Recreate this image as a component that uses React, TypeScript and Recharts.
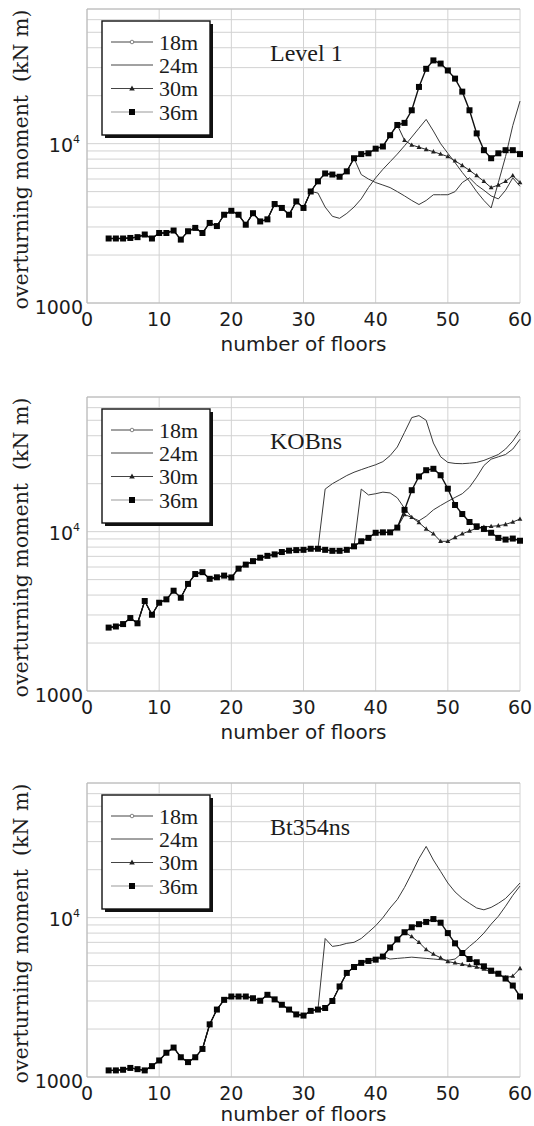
import { LineChart, Line, XAxis, YAxis, CartesianGrid } from "recharts";

// floors 3..60, one value per floor
const FLOORS = [
  3, 4, 5, 6, 7, 8, 9, 10, 11, 12, 13, 14, 15, 16, 17, 18, 19, 20, 21, 22, 23, 24, 25, 26, 27, 28, 29, 30, 31,
  32, 33, 34, 35, 36, 37, 38, 39, 40, 41, 42, 43, 44, 45, 46, 47, 48, 49, 50, 51, 52, 53, 54, 55, 56, 57, 58, 59, 60,
];

// ── Level 1 ──────────────────────────────────────────────────────────────
// floors 3–31 are common to every width
const L1_BASE = [2540, 2540, 2540, 2560, 2590, 2690, 2540, 2750, 2750, 2850, 2500, 2820, 2960, 2750, 3180, 3040, 3580, 3790, 3580, 3100, 3660, 3250, 3350, 4180, 3950, 3580, 4340, 3950, 5010];
// 36m, floors 32–60
const L1_M36_TOP = [5800, 6500, 6400, 6200, 6700, 8100, 8600, 8700, 9300, 9600, 11300, 13100, 13500, 16200, 22700, 29500, 33300, 31800, 28800, 25600, 21200, 16200, 11600, 9100, 8100, 8700, 9100, 9100, 8600];
// 30m, floors 44–60
const L1_M30_TOP = [10500, 9800, 9500, 9200, 8900, 8600, 8300, 7800, 7300, 6800, 6300, 5800, 5300, 5500, 5800, 6300, 5700];
// 24m, floors 38–60
const L1_M24_TOP = [6400, 6000, 5700, 5500, 5300, 5000, 4700, 4400, 4150, 4400, 4780, 4780, 4780, 5000, 5700, 6100, 5500, 5100, 4700, 4500, 5100, 6100, 5400];
// 18m, floors 32–60
const L1_M18_TOP = [4900, 4000, 3500, 3400, 3650, 4000, 4500, 5300, 6100, 6900, 7700, 8600, 9700, 11000, 12500, 14200, 12000, 10000, 8700, 7600, 6600, 5800, 5000, 4400, 3950, 5700, 8300, 13000, 18500];

// ── KOBns ────────────────────────────────────────────────────────────────
const L2_BASE = [2500, 2540, 2630, 2870, 2660, 3670, 3010, 3580, 3760, 4260, 3850, 4700, 5420, 5570, 5060, 5170, 5300, 5160, 5860, 6210, 6530, 6860, 7050, 7200, 7450, 7600, 7660, 7690, 7810];
const L2_M36_TOP = [7810, 7690, 7580, 7580, 7690, 8090, 8700, 9140, 9840, 9900, 9900, 10600, 13700, 18200, 22200, 24300, 24800, 22600, 18600, 14700, 12900, 11500, 10800, 10400, 9840, 9140, 8920, 9050, 8770];
const L2_M30_TOP = [12800, 12300, 11400, 10400, 9700, 8700, 8700, 9200, 9700, 10100, 10500, 10700, 10800, 10900, 11100, 11500, 12000];
const L2_M24_TOP = [18500, 17000, 17300, 17700, 17500, 16300, 14000, 12300, 11700, 12500, 13700, 14600, 15500, 16400, 17300, 19000, 22000, 26000, 28500, 29500, 30500, 33000, 38000];
// 18m, floors 33–60
const L2_M18_TOP = [18500, 20000, 21200, 22500, 23600, 24500, 25400, 26300, 27500, 30000, 34000, 42000, 52000, 53500, 50000, 36000, 29500, 27200, 26800, 26700, 26900, 27200, 28000, 29200, 30500, 33000, 37000, 43000];

// ── Bt354ns ──────────────────────────────────────────────────────────────
const L3_BASE = [1100, 1100, 1110, 1140, 1120, 1100, 1170, 1270, 1420, 1530, 1330, 1240, 1330, 1500, 2140, 2650, 3050, 3200, 3200, 3200, 3120, 3010, 3280, 3070, 2840, 2650, 2470, 2430, 2600];
const L3_M36_TOP = [2650, 2710, 3000, 3700, 4500, 4900, 5200, 5350, 5450, 5700, 6500, 7300, 8100, 8700, 9100, 9400, 9800, 9300, 8000, 6900, 6000, 5500, 5250, 4950, 4650, 4450, 4150, 3750, 3200];
// 30m, floors 45–60
const L3_M30_TOP = [7600, 7000, 6300, 5900, 5600, 5300, 5200, 5100, 5000, 4900, 4750, 4550, 4400, 4200, 4300, 4800];
const L3_M24_TOP = [5300, 5450, 5600, 5700, 5500, 5550, 5600, 5650, 5600, 5550, 5500, 5450, 5400, 5500, 6000, 6600, 7200, 8000, 9100, 10200, 11800, 13800, 15800];
const L3_M18_TOP = [7400, 6600, 6700, 6900, 7000, 7400, 8100, 8900, 10000, 11500, 13000, 15500, 19000, 23500, 28000, 23000, 19500, 16500, 14500, 13200, 12300, 11500, 11200, 11600, 12300, 13200, 14700, 16500];

const Y_TICKS = [1000, 2000, 3000, 4000, 5000, 6000, 7000, 8000, 9000, 10000, 20000, 30000, 40000, 50000, 60000, 70000];
const X_TICKS = [0, 10, 20, 30, 40, 50, 60];
const X_MINOR = [0, 2, 4, 6, 8, 10, 12, 14, 16, 18, 20, 22, 24, 26, 28, 30, 32, 34, 36, 38, 40, 42, 44, 46, 48, 50, 52, 54, 56, 58, 60];
const LEGEND = ["18m", "24m", "30m", "36m"];

const PANELS = [
  {
    title: "Level 1",
    m18: [...L1_BASE, ...L1_M18_TOP],
    m24: [...L1_BASE, ...L1_M36_TOP.slice(0, 6), ...L1_M24_TOP],
    m30: [...L1_BASE, ...L1_M36_TOP.slice(0, 12), ...L1_M30_TOP],
    m36: [...L1_BASE, ...L1_M36_TOP],
  },
  {
    title: "KOBns",
    m18: [...L2_BASE, ...L2_M36_TOP.slice(0, 1), ...L2_M18_TOP],
    m24: [...L2_BASE, ...L2_M36_TOP.slice(0, 6), ...L2_M24_TOP],
    m30: [...L2_BASE, ...L2_M36_TOP.slice(0, 12), ...L2_M30_TOP],
    m36: [...L2_BASE, ...L2_M36_TOP],
  },
  {
    title: "Bt354ns",
    m18: [...L3_BASE, ...L3_M36_TOP.slice(0, 1), ...L3_M18_TOP],
    m24: [...L3_BASE, ...L3_M36_TOP.slice(0, 6), ...L3_M24_TOP],
    m30: [...L3_BASE, ...L3_M36_TOP.slice(0, 13), ...L3_M30_TOP],
    m36: [...L3_BASE, ...L3_M36_TOP],
  },
];

const W = 534;
const H = 380;
const PANEL_TOPS = [0, 388, 774];
// the bottom panel's axis title sits a little higher so it stays on the page
const XLABEL_GAP = [48, 48, 44];
const PLOT_TOP = 9;
const PLOT_LEFT = 87;
const PLOT_RIGHT = 520;
const PLOT_H = 294;
const SANS = "'DejaVu Sans', Verdana, sans-serif";
const SERIF = "'Liberation Serif', 'Times New Roman', serif";
const INK = "#1c1c1c";
const GRID = "#d2d2d2";
const BORDER = "#b8b8b8";

function XTick({ x, y, payload }: any) {
  return (
    <text x={x} y={y + 23} textAnchor="middle" fontFamily={SANS} fontSize={19} fill={INK}>
      {payload.value}
    </text>
  );
}

function YTick({ x, y, payload }: any) {
  if (payload.value === 1000) {
    return (
      <text x={x - 4} y={y + 11} textAnchor="end" fontFamily={SANS} fontSize={19} fill={INK}>1000</text>
    );
  }
  if (payload.value === 10000) {
    return (
      <text x={x - 7} y={y + 8} textAnchor="end" fontFamily={SANS} fontSize={19} fill={INK}>
        10<tspan dy={-9} fontSize={11}>4</tspan>
      </text>
    );
  }
  return <g />;
}

function SquareDot({ cx, cy, index }: any) {
  if (cx == null || cy == null) return <g key={index} />;
  return <rect key={index} x={cx - 3} y={cy - 3} width={6} height={6} fill="#050505" />;
}

function TriDot({ cx, cy, index }: any) {
  if (cx == null || cy == null) return <g key={index} />;
  return <path key={index} d={`M${cx},${cy - 2.6}L${cx + 2.4},${cy + 1.7}L${cx - 2.4},${cy + 1.7}Z`} fill="#222" />;
}

// legend swatch marker per series
function LegendMark({ name, x, y }: { name: string; x: number; y: number }) {
  if (name === "18m") return <circle cx={x} cy={y} r={1.8} fill="#fff" stroke="#666" strokeWidth={0.8} />;
  if (name === "30m") return <path d={`M${x},${y - 3}L${x + 2.8},${y + 2}L${x - 2.8},${y + 2}Z`} fill="#222" />;
  if (name === "36m") return <rect x={x - 3} y={y - 3} width={6} height={6} fill="#050505" />;
  return null;
}

function Overlay({ title, labelGap }: { title: string; labelGap: number }) {
  const bx = 102;
  const by = PLOT_TOP + 12;
  const rows = [21, 44, 67.5, 91];
  return (
    <svg width={W} height={H} style={{ position: "absolute", left: 0, top: 0, pointerEvents: "none" }}>
      <text
        x={28} y={PLOT_TOP + 150.5} transform={`rotate(-90, 28, ${PLOT_TOP + 150.5})`}
        textAnchor="middle" fontFamily="'DejaVu Serif', serif" fontSize={20.5} fill={INK}
      >
        overturning moment{"\u00a0\u00a0"}(kN m)
      </text>
      <text
        x={(PLOT_LEFT + PLOT_RIGHT) / 2} y={PLOT_TOP + PLOT_H + labelGap} textAnchor="middle"
        fontFamily={SANS} fontSize={20} fill={INK}
      >
        number of floors
      </text>
      <text x={270} y={PLOT_TOP + 51.5} fontFamily={SERIF} fontSize={24} fill={INK}>{title}</text>

      <rect x={bx + 3} y={by + 3} width={108} height={114} fill="#111" />
      <rect x={bx} y={by} width={108} height={114} fill="#fff" stroke="#111" strokeWidth={1.4} />
      {LEGEND.map((name, i) => (
        <g key={name}>
          <line x1={bx + 9} x2={bx + 51} y1={by + rows[i]} y2={by + rows[i]} stroke={name === "36m" ? "#999" : "#444"} strokeWidth={1} />
          <LegendMark name={name} x={bx + 30} y={by + rows[i]} />
          <text x={bx + 57} y={by + rows[i] + 7.5} fontFamily={SERIF} fontSize={22} fill={INK}>{name}</text>
        </g>
      ))}
    </svg>
  );
}

function Panel({ idx }: { idx: number }) {
  const p = PANELS[idx];
  const rows = FLOORS.map((floor, i) => ({ floor, m18: p.m18[i], m24: p.m24[i], m30: p.m30[i], m36: p.m36[i] }));

  return (
    <div style={{ position: "absolute", left: 0, top: PANEL_TOPS[idx], width: W, height: H }}>
      <LineChart width={W} height={H} data={rows} margin={{ top: PLOT_TOP, right: W - PLOT_RIGHT, left: 0, bottom: 0 }}>
        <CartesianGrid stroke={GRID} strokeWidth={1} />
        <XAxis
          dataKey="floor" type="number" domain={[0, 60]} ticks={X_TICKS} interval={0}
          height={H - PLOT_TOP - PLOT_H} tickSize={0} tickMargin={0} tickLine={false}
          axisLine={{ stroke: BORDER }} tick={<XTick />}
        />
        <XAxis
          xAxisId="top" orientation="top" mirror type="number" domain={[0, 60]} ticks={X_MINOR}
          interval={0} tick={false} tickSize={3} tickLine={{ stroke: "#999" }} axisLine={{ stroke: BORDER }}
        />
        <XAxis
          xAxisId="btm" orientation="bottom" mirror type="number" domain={[0, 60]} ticks={X_MINOR}
          interval={0} tick={false} tickSize={3} tickLine={{ stroke: "#999" }} axisLine={false}
        />
        <YAxis
          type="number" scale="log" domain={[1000, 70000]} allowDataOverflow ticks={Y_TICKS} interval={0}
          width={PLOT_LEFT} tickSize={0} tickMargin={0} tickLine={false}
          axisLine={{ stroke: BORDER }} tick={<YTick />}
        />
        <Line dataKey="m18" stroke="#3a3a3a" strokeWidth={1} dot={false} isAnimationActive={false} />
        <Line dataKey="m24" stroke="#3a3a3a" strokeWidth={1} dot={false} isAnimationActive={false} />
        <Line dataKey="m30" stroke="#2a2a2a" strokeWidth={1} dot={(d: any) => <TriDot key={d.index} {...d} />} isAnimationActive={false} />
        <Line dataKey="m36" stroke="#111" strokeWidth={1.4} dot={(d: any) => <SquareDot key={d.index} {...d} />} isAnimationActive={false} />
      </LineChart>
      <Overlay title={p.title} labelGap={XLABEL_GAP[idx]} />
    </div>
  );
}

export default function App() {
  return (
    <div style={{ position: "absolute", left: 0, top: 0, width: W, height: 1126, overflow: "hidden", background: "#fff" }}>
      {PANELS.map((_, i) => <Panel key={i} idx={i} />)}
    </div>
  );
}
